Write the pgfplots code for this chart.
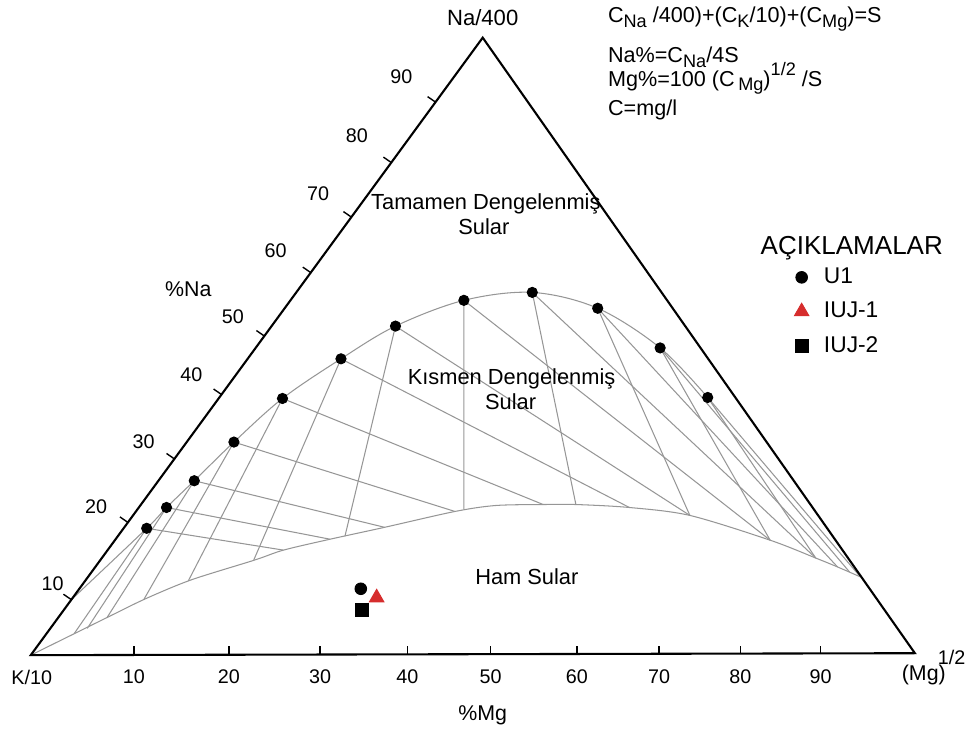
\documentclass[border=0pt]{standalone}
\usepackage{fontspec}
\setmainfont{Liberation Sans}
\usepackage{pgfplots}
\pgfplotsset{compat=1.18}
\definecolor{gridgray}{RGB}{150,150,150}
\definecolor{trired}{RGB}{214,45,45}
\newcommand\fs[1]{\fontsize{#1}{#1}\selectfont}
\newcommand\subr[1]{\raisebox{-0.4ex}{\fs{7.8}#1}}
\newcommand\supr[1]{\raisebox{0.9ex}{\fs{7.8}#1}}

\begin{document}
\begin{tikzpicture}
\begin{axis}[
    scale only axis, width=14.595cm, height=11.205cm,
    xmin=0, xmax=973, ymin=0, ymax=747, y dir=reverse,
    axis lines=none, clip=false,
    unbounded coords=jump,
    legend style={draw=none, fill=none, at={(axis cs:801,265)}, anchor=north west,
        font=\fs{9.8}, row sep=2.5pt, inner sep=0pt,
        /tikz/every odd column/.append style={column sep=4.5pt}},
    legend cell align=left,
    grid line/.style={gridgray, line width=0.45pt, forget plot},
]
\draw[draw=none] (rel axis cs:0,0) rectangle (rel axis cs:1,1);

% full equilibrium curve
\addplot[grid line, smooth, tension=0.55] coordinates {
    (72,605) (148,533) (168,512) (196,485) (236,446) (285,402) (344,362)
    (399,329) (468,303) (537,295) (603,311) (666,351) (714,401)};
% boundary of immature waters
\addplot[grid line, smooth, tension=0.5] coordinates {
    (31,661) (108,623) (147,604) (193,585) (257,565) (286,555) (333,544)
    (388,532) (459,516) (500,510) (548,509) (581,509) (635,512) (696,520)
    (777,545) (823,563) (845,572) (868,582)};
% lines of constant K/Mg (towards the Na corner)
\addplot[grid line] coordinates {
    (148,533) (75,639) (nan,nan)
    (168,512) (88,634) (nan,nan)
    (196,485) (108,623) (nan,nan)
    (236,446) (145,605) (nan,nan)
    (285,402) (190,586) (nan,nan)
    (344,362) (256,565) (nan,nan)
    (399,329) (348,541) (nan,nan)
    (468,303) (468,514) (nan,nan)
    (537,295) (581,509) (nan,nan)
    (603,311) (696,520) (nan,nan)
    (666,351) (777,545) (nan,nan)
    (714,401) (823,563)};
% lines of constant Na/K (towards the Mg corner)
\addplot[grid line] coordinates {
    (148,533) (286,555) (nan,nan)
    (168,512) (333,544) (nan,nan)
    (196,485) (388,532) (nan,nan)
    (236,446) (459,516) (nan,nan)
    (285,402) (548,509) (nan,nan)
    (344,362) (635,512) (nan,nan)
    (399,329) (696,520) (nan,nan)
    (468,303) (777,545) (nan,nan)
    (537,295) (823,563) (nan,nan)
    (603,311) (845,572) (nan,nan)
    (666,351) (857,577) (nan,nan)
    (714,401) (868,582)};
% temperature points on the full equilibrium curve
\addplot[only marks, mark=*, mark size=2.2pt, black, forget plot] coordinates {
    (148,533) (168,512) (196,485) (236,446) (285,402) (344,362)
    (399,329) (468,303) (537,295) (603,311) (666,351) (714,401)};

% triangle and ticks
\addplot[black, line width=0.9pt, line join=miter, forget plot] coordinates {
    (31,661) (923,659) (487,38) (31,661) (923,659)};
\addplot[black, line width=0.6pt, forget plot] coordinates {
    (135,660) (135,652) (nan,nan) (231,660) (231,652) (nan,nan)
    (323,660) (323,652) (nan,nan) (411,660) (411,652) (nan,nan)
    (495,660) (495,652) (nan,nan) (582,660) (582,652) (nan,nan)
    (665,660) (665,652) (nan,nan) (747,660) (747,652) (nan,nan)
    (828,660) (828,652)};
\addplot[black, line width=0.6pt, forget plot] coordinates {
    (72,605) (64,599.5) (nan,nan) (129,527) (121,521.5) (nan,nan)
    (176,463) (168,457.5) (nan,nan) (223.5,398) (215.5,392.5) (nan,nan)
    (266.7,339) (258.7,333.5) (nan,nan) (313.5,275) (305.5,269.5) (nan,nan)
    (354.5,219) (346.5,213.5) (nan,nan) (394.8,164) (386.8,158.5) (nan,nan)
    (439.4,103) (431.4,97.5)};

% samples
\addplot[only marks, mark=*, mark size=2.5pt, black] coordinates {(364,594)};
\addlegendentry{U1}
\addplot[only marks, mark=triangle*, mark size=3.6pt, color=trired] coordinates {(380,603)};
\addlegendentry{IUJ-1}
\addplot[only marks, mark=square*, mark size=2.8pt, black] coordinates {(365,615)};
\addlegendentry{IUJ-2}

% axis labels
\begin{scope}[font=\fs{8.5}]
\node at (axis cs:53,589) {10};
\node at (axis cs:97,511) {20};
\node at (axis cs:145,446) {30};
\node at (axis cs:193,378) {40};
\node at (axis cs:235,320) {50};
\node at (axis cs:278,253) {60};
\node at (axis cs:321,195) {70};
\node at (axis cs:360,137) {80};
\node at (axis cs:405,77) {90};
\node at (axis cs:135,683) {10};
\node at (axis cs:231,683) {20};
\node at (axis cs:323,683) {30};
\node at (axis cs:411,683) {40};
\node at (axis cs:495,683) {50};
\node at (axis cs:582,683) {60};
\node at (axis cs:665,683) {70};
\node at (axis cs:747,683) {80};
\node at (axis cs:828,683) {90};
\node at (axis cs:32,683) {K/10};
\end{scope}
\node[font=\fs{9.2}] at (axis cs:932,681) {(Mg)};
\node[font=\fs{8.5}] at (axis cs:960,663) {1/2};
\node[font=\fs{9.2}] at (axis cs:487,722) {\%Mg};
\node[font=\fs{9.2}] at (axis cs:190,292) {\%Na};
\node[font=\fs{9.5}] at (axis cs:487,18) {Na/400};

% field names
\begin{scope}[font=\fs{9.4}]
\node[anchor=base west, inner sep=0pt] at (axis cs:374,211) {Tamamen Dengelenmiş};
\node[anchor=base west, inner sep=0pt] at (axis cs:462,237) {Sular};
\node[anchor=base west, inner sep=0pt] at (axis cs:411,388) {Kısmen Dengelenmiş};
\node[anchor=base west, inner sep=0pt] at (axis cs:489,413) {Sular};
\node[anchor=base west, inner sep=0pt] at (axis cs:479,590) {Ham Sular};
\end{scope}

% formulas
\begin{scope}[font=\fs{9.3}]
\node[anchor=base west, inner sep=0pt] at (axis cs:613,23) {C\subr{Na} /400)+(C\subr{K}/10)+(C\subr{Mg})=S};
\node[anchor=base west, inner sep=0pt] at (axis cs:613,63) {Na\%=C\subr{Na}/4S};
\node[anchor=base west, inner sep=0pt] at (axis cs:613,87) {Mg\%=100 (C\,\subr{Mg})\supr{1/2} /S};
\node[anchor=base west, inner sep=0pt] at (axis cs:613,117) {C=mg/l};
\end{scope}

\node[anchor=base west, inner sep=0pt, font=\fs{11.2}] at (axis cs:767,257) {AÇIKLAMALAR};
\end{axis}
\end{tikzpicture}
\end{document}
